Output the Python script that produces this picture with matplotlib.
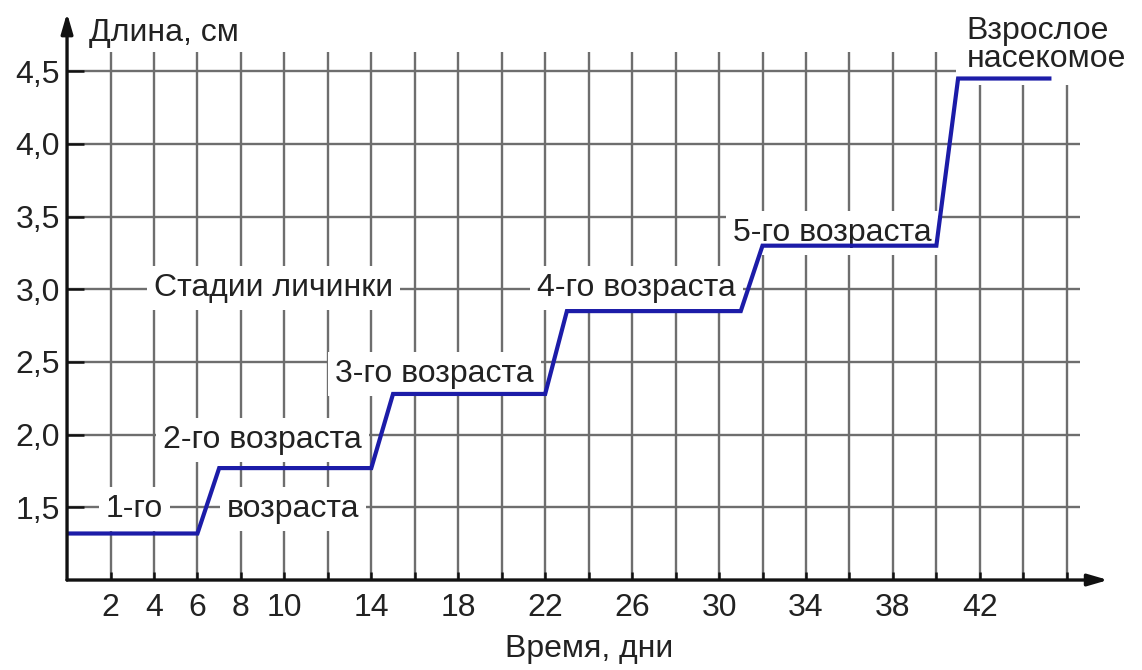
"""Рост личинки насекомого по стадиям: длина тела во времени."""

import matplotlib

matplotlib.use("Agg")

import matplotlib.pyplot as plt  # noqa: E402

plt.rcParams["font.family"] = ["Liberation Sans", "DejaVu Sans"]

# кривая роста (дни, длина в см)
days = [0, 6, 7, 14, 15, 22, 23, 31, 32, 40, 41, 45.2]
length_cm = [1.32, 1.32, 1.77, 1.77, 2.28, 2.28, 2.85, 2.85, 3.30, 3.30, 4.45, 4.45]

# сетка и подписи осей
grid_days = list(range(2, 47, 2))
labelled_days = [2, 4, 6, 8, 10, 14, 18, 22, 26, 30, 34, 38, 42]
grid_lengths = [1.5, 2.0, 2.5, 3.0, 3.5, 4.0, 4.5]
length_labels = ["1,5", "2,0", "2,5", "3,0", "3,5", "4,0", "4,5"]

# подписи стадий: (текст, день, длина)
stage_labels = [
    ("1-го", 3.1, 1.49),
    ("возраста", 10.4, 1.49),
    ("2-го возраста", 9.0, 1.96),
    ("3-го возраста", 16.9, 2.42),
    ("Стадии личинки", 9.5, 3.01),
    ("4-го возраста", 26.2, 3.01),
    ("5-го возраста", 35.2, 3.39),
]
adult_label = "Взрослое\nнасекомое"

GRID_COLOR = "#6e6e6e"
LINE_COLOR = "#1c1ca8"
TEXT_COLOR = "#222222"
FS = 23

fig = plt.figure(figsize=(11.42, 6.70), dpi=100)
ax = fig.add_axes([0.0587, 0.1343, 0.923, 0.857])
ax.set_xlim(0, 48.5)
ax.set_ylim(1.0, 4.95)
for side in ax.spines.values():
    side.set_visible(False)

ax.vlines(grid_days, 1.0, 4.63, color=GRID_COLOR, linewidth=1.7, zorder=1)
ax.hlines(grid_lengths, 0, 46.6, color=GRID_COLOR, linewidth=1.7, zorder=1)

ax.set_xticks(grid_days)
ax.set_xticklabels([str(d) if d in labelled_days else "" for d in grid_days])
ax.set_yticks(grid_lengths)
ax.set_yticklabels(length_labels)
ax.tick_params(axis="x", direction="in", length=6, width=1.8, color="#111111",
               labelsize=FS, labelcolor=TEXT_COLOR, pad=9)
ax.tick_params(axis="y", direction="in", length=12, width=1.8, color="#111111",
               labelsize=FS, labelcolor=TEXT_COLOR, pad=5)

arrow = dict(arrowstyle="-|>,head_length=1.2,head_width=0.35", color="#111111",
             linewidth=2.4, shrinkA=0, shrinkB=0)
ax.annotate("", xy=(47.9, 1.0), xytext=(0, 1.0), arrowprops=arrow,
            annotation_clip=False, zorder=5)
ax.annotate("", xy=(0, 4.9), xytext=(0, 1.0), arrowprops=arrow,
            annotation_clip=False, zorder=5)

box = dict(facecolor="white", edgecolor="none", pad=5)
for text, x, y in stage_labels:
    ax.text(x, y, text, ha="center", va="center", fontsize=FS,
            color=TEXT_COLOR, bbox=box, zorder=3)
ax.text(41.4, 4.48, adult_label, ha="left", va="bottom", fontsize=FS,
        color=TEXT_COLOR, linespacing=0.9,
        bbox=dict(facecolor="white", edgecolor="none", pad=8), zorder=3)

ax.plot(days, length_cm, color=LINE_COLOR, linewidth=3, zorder=4,
        solid_joinstyle="miter")

ax.text(1.0, 4.76, "Длина, см", ha="left", va="center", fontsize=FS,
        color=TEXT_COLOR)
ax.set_xlabel("Время, дни", fontsize=FS, color=TEXT_COLOR)
ax.xaxis.set_label_coords(24 / 48.5, -0.094)

fig.savefig("out.png", dpi=100, facecolor="white")
